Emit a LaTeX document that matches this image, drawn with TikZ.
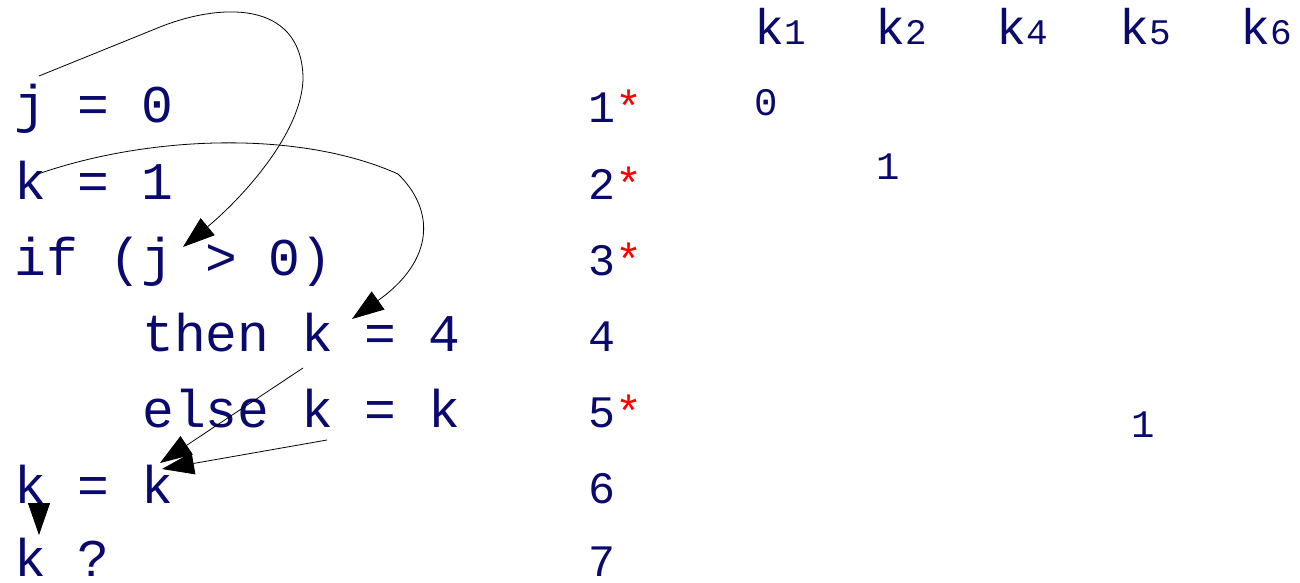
\documentclass[tikz,border=0pt]{standalone}
\usepackage{fontspec}
\setmonofont{Liberation Mono}
\usetikzlibrary{arrows.meta}
\definecolor{navy}{RGB}{10,10,110}
\definecolor{starred}{RGB}{255,0,0}
\newcommand{\rstar}{\textcolor{starred}{*}}
\newcommand{\hk}[1]{k{\fontsize{36}{40}\selectfont #1}}
\begin{document}
\begin{tikzpicture}[x=1pt,y=-1pt,
  code/.style={anchor=base west,inner sep=0pt,text=navy,font=\ttfamily\fontsize{53}{60}\selectfont},
  lnum/.style={anchor=base west,inner sep=0pt,text=navy,font=\ttfamily\fontsize{45}{50}\selectfont},
  hdr/.style={anchor=base west,inner sep=0pt,text=navy,font=\ttfamily\fontsize{50}{60}\selectfont},
  val/.style={anchor=base west,inner sep=0pt,text=navy,font=\ttfamily\fontsize{39}{45}\selectfont},
  flow/.style={draw=black,line width=0.8pt,-{Triangle[length=32pt,width=22pt]}}]
\useasboundingbox (0,0) rectangle (1300,583);
% code lines
\node[code] (l1) at (14,123) {j = 0};
\node[code] (l2) at (14,199) {k = 1};
\node[code] (l3) at (14,275) {if (j > 0)};
\node[code] (l4) at (142,351) {then k = 4};
\node[code] (l5) at (142,427) {else k = k};
\node[code] (l6) at (14,503) {k = k};
\node[code] (l7) at (14,576) {k ?};
% line numbers
\node[lnum] (n1) at (588,123) {1\rstar};
\node[lnum] (n2) at (588,199) {2\rstar};
\node[lnum] (n3) at (588,275) {3\rstar};
\node[lnum] (n4) at (588,351) {4};
\node[lnum] (n5) at (588,427) {5\rstar};
\node[lnum] (n6) at (588,503) {6};
\node[lnum] (n7) at (588,576) {7};
% header
\node[hdr] (h1) at (754,45) {\hk{1}};
\node[hdr] (h2) at (875,45) {\hk{2}};
\node[hdr] (h4) at (996,45) {\hk{4}};
\node[hdr] (h5) at (1119,45) {\hk{5}};
\node[hdr] (h6) at (1240,45) {\hk{6}};
% values
\node[val] (v1) at (754,116) {0};
\node[val] (v2) at (876,179) {1};
\node[val] (v5) at (1131,437) {1};
% connector end points
\coordinate (a1s) at (39,76);
\coordinate (a1k) at (160,27);
\coordinate (a1r) at (303,76);
\coordinate (a1e) at (183,247);
\coordinate (a2s) at (38,174);
\coordinate (a2k) at (398,174);
\coordinate (a2e) at (352,319);
\coordinate (a3s) at (303,368);
\coordinate (a3e) at (160,463);
\coordinate (a4s) at (327,440);
\coordinate (a4e) at (162,469);
\coordinate (a5s) at (39,503);
\coordinate (a5e) at (39,535);
% connectors
\draw[flow] (a1s) -- (a1k) .. controls (220,3) and (300,0) .. (a1r)
   .. controls (304,132) and (240,200) .. (a1e);
\draw[flow] (a2s) .. controls (150,135) and (300,130) .. (a2k)
   .. controls (435,210) and (435,260) .. (a2e);
\draw[flow] (a3s) -- (a3e);
\draw[flow] (a4s) -- (a4e);
\draw[flow] (a5s) -- (a5e);
\end{tikzpicture}
\end{document}
